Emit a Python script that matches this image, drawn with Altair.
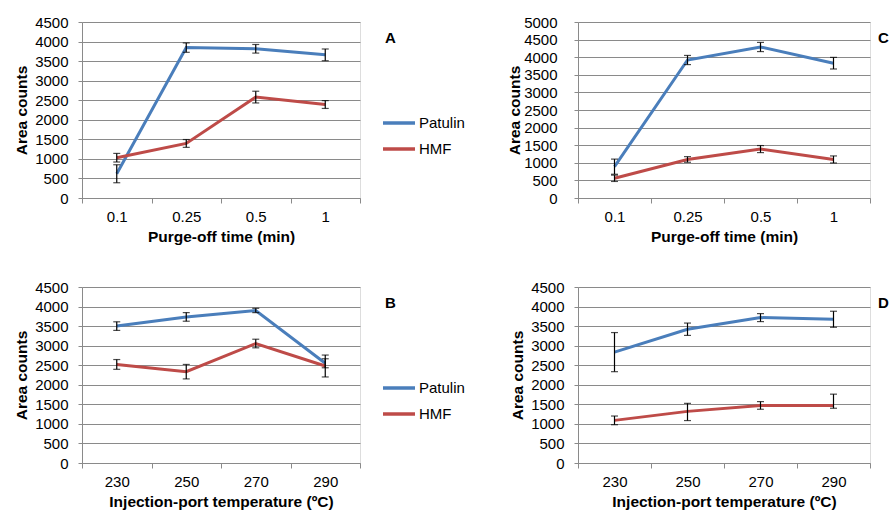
import altair as alt
import pandas as pd

FONT = "Liberation Sans"
series = ["Patulin", "HMF"]
colors = ["#4A7EBB", "#BE4B48"]

purge_labels = ["0.1", "0.25", "0.5", "1"]
temp_labels = ["230", "250", "270", "290"]

# Panel A (purge-off time)
a_patulin = [620, 3845, 3815, 3660]
a_patulin_err = [230, 120, 110, 150]
a_hmf = [1030, 1395, 2580, 2390]
a_hmf_err = [110, 100, 150, 100]

# Panel C (purge-off time)
c_patulin = [890, 3920, 4290, 3830]
c_patulin_err = [215, 130, 130, 165]
c_hmf = [560, 1095, 1390, 1095]
c_hmf_err = [90, 80, 100, 100]

# Panel B (injection-port temperature)
b_patulin = [3500, 3735, 3900, 2550]
b_patulin_err = [110, 110, 55, 115]
b_hmf = [2520, 2335, 3055, 2480]
b_hmf_err = [125, 185, 110, 280]

# Panel D (injection-port temperature)
d_patulin = [2835, 3420, 3718, 3675]
d_patulin_err = [500, 158, 102, 205]
d_hmf = [1090, 1320, 1472, 1470]
d_hmf_err_up = [111, 205, 98, 290]
d_hmf_err_dn = [111, 235, 98, 70]


def panel(cats, pat, pat_up, pat_dn, hmf, hmf_up, hmf_dn, ymax, width, xtitle,
          letter, letter_x, show_legend, ylabel_pad, ytitle_pad):
    rows = []
    for name, vals, up, dn in [("Patulin", pat, pat_up, pat_dn), ("HMF", hmf, hmf_up, hmf_dn)]:
        for i, c in enumerate(cats):
            rows.append(dict(idx=i, cat=c, series=name, value=vals[i],
                             lo=vals[i] - dn[i], hi=vals[i] + up[i]))
    df = pd.DataFrame(rows)
    label_arr = "[" + ",".join("'%s'" % c for c in cats) + "]"
    xscale = alt.Scale(domain=[-0.5, len(cats) - 0.5], nice=False, zero=False)
    xaxis = alt.Axis(
        values=[v / 2 for v in range(-1, 2 * len(cats))],
        labelExpr="datum.value % 1 === 0 ? " + label_arr + "[datum.value] : ''",
        tickOpacity={"condition": {"test": "datum.value % 1 === 0", "value": 0}, "value": 1},
        labelOverlap=False, labelFlush=False, grid=False,
        domainColor="#8A8A8A", tickColor="#8A8A8A", tickSize=5,
        labelFont=FONT, labelFontSize=15, labelColor="black", labelPadding=6,
        title=xtitle, titleFont=FONT, titleFontSize=15.5, titleFontWeight="bold",
        titleColor="black", titlePadding=5,
    )
    yscale = alt.Scale(domain=[0, ymax], nice=False)
    yaxis = alt.Axis(
        values=list(range(0, ymax + 1, 500)), format="d", labelOverlap=False,
        grid=True, gridColor="#8A8A8A",
        domainColor="#8A8A8A", tickColor="#8A8A8A", tickSize=4,
        labelFont=FONT, labelFontSize=15, labelColor="black", labelPadding=ylabel_pad,
        title="Area counts", titleFont=FONT, titleFontSize=15.5, titleFontWeight="bold",
        titleColor="black", titlePadding=ytitle_pad,
    )
    X = alt.X("idx:Q", scale=xscale, axis=xaxis)
    base = alt.Chart(df)
    if show_legend:
        legend = alt.Legend(orient="none", legendX=width + 21, legendY=83, title=None,
                            symbolType="stroke", symbolSize=1024, symbolStrokeWidth=3.5,
                            labelFont=FONT, labelFontSize=15, labelColor="black",
                            rowPadding=-5, labelOffset=2)
    else:
        legend = None
    color = alt.Color("series:N", scale=alt.Scale(domain=series, range=colors), legend=legend)
    lines = base.mark_line(strokeWidth=3).encode(
        x=X,
        y=alt.Y("value:Q", scale=yscale, axis=yaxis),
        color=color,
        order="idx:Q",
    )
    bars = base.mark_rule(color="black", strokeWidth=1.2).encode(
        x=X, y=alt.Y("lo:Q", scale=yscale, axis=yaxis), y2="hi:Q")
    cap_lo = base.mark_tick(color="black", thickness=1.2, size=7, orient="horizontal").encode(
        x=X, y=alt.Y("lo:Q", scale=yscale, axis=yaxis))
    cap_hi = base.mark_tick(color="black", thickness=1.2, size=7, orient="horizontal").encode(
        x=X, y=alt.Y("hi:Q", scale=yscale, axis=yaxis))
    lab = alt.Chart(pd.DataFrame({"t": [letter]})).mark_text(
        font=FONT, fontSize=15, fontWeight="bold", align="left", baseline="middle",
        color="black").encode(text="t:N", x=alt.value(letter_x), y=alt.value(16))
    return alt.layer(lines, bars, cap_lo, cap_hi, lab).properties(width=width, height=176)


A = panel(purge_labels, a_patulin, a_patulin_err, a_patulin_err, a_hmf, a_hmf_err, a_hmf_err,
          4500, 278, "Purge-off time (min)", "A", 303, True, 10, 5)
C = panel(purge_labels, c_patulin, c_patulin_err, c_patulin_err, c_hmf, c_hmf_err, c_hmf_err,
          5000, 292, "Purge-off time (min)", "C", 300, False, 17, 1)
B = panel(temp_labels, b_patulin, b_patulin_err, b_patulin_err, b_hmf, b_hmf_err, b_hmf_err,
          4500, 278, "Injection-port temperature (ºC)", "B", 303, True, 10, 5)
D = panel(temp_labels, d_patulin, d_patulin_err, d_patulin_err, d_hmf, d_hmf_err_up, d_hmf_err_dn,
          4500, 292, "Injection-port temperature (ºC)", "D", 300, False, 10, 5)

chart = alt.ConcatChart(
    concat=[A, C, B, D], columns=2, spacing={"row": 89, "column": 218}, bounds="flush"
).resolve_scale(color="independent").resolve_legend(color="independent").properties(
    padding={"left": 14, "top": 14, "right": 0, "bottom": 0}, background="white"
).configure_view(stroke=None).configure(font=FONT)

chart.save("out.html", embed_options={"renderer": "svg", "actions": False})
